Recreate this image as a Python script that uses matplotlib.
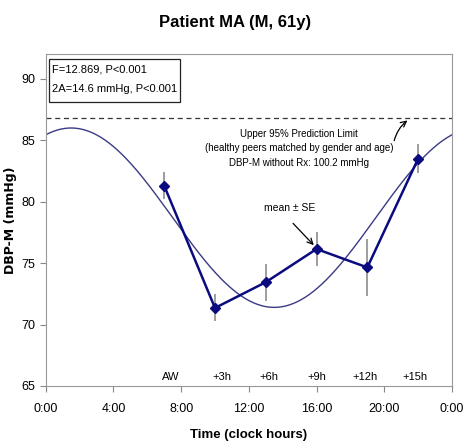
import numpy as np
import matplotlib.pyplot as plt
from matplotlib import font_manager
from matplotlib.patches import Rectangle

# measured means and SE (clock hours)
hours = [7, 10, 13, 16, 19, 22]
means = [81.3, 71.35, 73.45, 76.15, 74.65, 83.5]
se = [1.1, 1.1, 1.5, 1.4, 2.3, 1.2]
labels = ['AW', '+3h', '+6h', '+9h', '+12h', '+15h']
label_x = [7.4, 10.4, 13.2, 16.0, 18.85, 21.8]

# fitted cosine parameters
mesor = 78.7
amp = 7.3
acro = 1.5  # hours
upper_limit = 86.85

names = {f.name for f in font_manager.fontManager.ttflist}
fam = ['Liberation Sans Narrow', 'Liberation Sans', 'DejaVu Sans']
fam = [f for f in fam if f in names] or ['DejaVu Sans']
plt.rcParams['font.family'] = fam

fig = plt.figure(figsize=(4.68, 4.45), dpi=100)
ax = fig.add_axes([0.0977, 0.1326, 0.868, 0.7454])

t = np.linspace(0, 24, 300)
ax.plot(t, mesor + amp * np.cos(2 * np.pi * (t - acro) / 24), color='#3a3a85', lw=1.0)

ax.errorbar(hours, means, yerr=se, fmt='none', ecolor='#8c8c8c', elinewidth=1.2)
ax.plot(hours, means, color='#0b0b80', lw=1.8, marker='D', ms=5)

ax.axhline(upper_limit, color='#333333', lw=0.9, ls=(0, (4, 3)))

for x, s in zip(label_x, labels):
    ax.text(x, 65.75, s, ha='center', va='center', fontsize=8)

# stats box
ax.add_patch(Rectangle((0.008, 0.856), 0.322, 0.13, transform=ax.transAxes,
                       fc='white', ec='#222222', lw=0.9, zorder=3))
ax.text(0.016, 0.953, 'F=12.869, P<0.001', transform=ax.transAxes,
        ha='left', va='center', fontsize=8, zorder=4)
ax.text(0.016, 0.894, '2A=14.6 mmHg, P<0.001', transform=ax.transAxes,
        ha='left', va='center', fontsize=8, zorder=4)

ax.text(14.95, 84.35,
        'Upper 95% Prediction Limit\n(healthy peers matched by gender and age)\nDBP-M without Rx: 100.2 mmHg',
        ha='center', va='center', fontsize=7, linespacing=1.55)
ax.annotate('', xy=(21.5, 86.75), xytext=(20.55, 84.75),
            arrowprops=dict(arrowstyle='->', color='black', lw=0.9,
                            connectionstyle='arc3,rad=-0.2'))

ax.text(14.4, 79.5, 'mean ± SE', ha='center', va='center', fontsize=7.5)
ax.annotate('', xy=(15.95, 76.3), xytext=(14.5, 78.4),
            arrowprops=dict(arrowstyle='->', color='black', lw=0.9))

ax.set_xlim(0, 24)
ax.set_ylim(65, 92)
ax.set_xticks(range(0, 25, 4))
ax.set_xticklabels(['0:00', '4:00', '8:00', '12:00', '16:00', '20:00', '0:00'])
ax.set_yticks(range(65, 91, 5))
ax.tick_params(labelsize=9, color='#888888', length=4)
ax.tick_params(axis='x', pad=8)
for sp in ax.spines.values():
    sp.set_color('#999999')

ax.set_xlabel('Time (clock hours)', fontsize=9.5, fontweight='bold')
ax.xaxis.set_label_coords(0.5, -0.13)
ax.set_ylabel('DBP-M (mmHg)', fontsize=9, fontweight='bold', family='DejaVu Sans')
ax.yaxis.set_label_coords(-0.07, 0.5)
fig.text(0.503, 0.95, 'Patient MA (M, 61y)', ha='center', va='center',
         fontsize=12, fontweight='bold')

fig.savefig('out.png', dpi=100)
